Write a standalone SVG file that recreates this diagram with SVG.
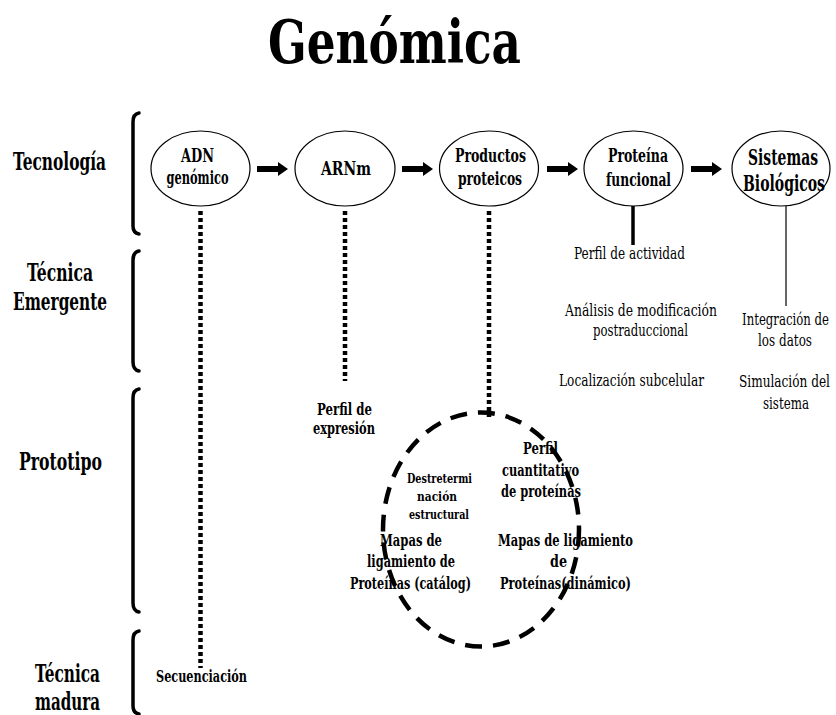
<svg xmlns="http://www.w3.org/2000/svg" width="836" height="715" viewBox="0 0 836 715">
  <style>
    text { fill: #000; text-anchor: middle; font-family: "DejaVu Serif", "Liberation Serif", serif; }
    .title { font-size: 60px; font-weight: bold; }
    .row { font-size: 24px; font-weight: bold; }
    .node { font-size: 18.5px; font-weight: bold; }
    .big { font-size: 21.5px; font-weight: bold; }
    .sub { font-size: 16px; }
    .subb { font-size: 17px; font-weight: bold; }
    .inb { font-size: 16px; font-weight: bold; }
    .sm { font-size: 13px; font-weight: bold; }
    .oval { fill: #fff; stroke: #000; stroke-width: 1.2; }
    .brace { fill: none; stroke: #000; stroke-width: 3.5; stroke-linecap: round; }
    .dots { stroke: #000; stroke-width: 4.5; stroke-dasharray: 4 3; fill: none; }
    .flow { fill: #000; }
  </style>

  <!-- heading -->
  <text class="title" x="394.5" y="63" textLength="253" lengthAdjust="spacingAndGlyphs">Genómica</text>

  <!-- maturity levels with their brackets -->
  <g id="levels">
    <text class="row" x="59.5" y="170" textLength="93" lengthAdjust="spacingAndGlyphs">Tecnología</text>
    <text class="row" x="60" y="281" textLength="66" lengthAdjust="spacingAndGlyphs">Técnica</text>
    <text class="row" x="60" y="310" textLength="94" lengthAdjust="spacingAndGlyphs">Emergente</text>
    <text class="row" x="60.5" y="470" textLength="83" lengthAdjust="spacingAndGlyphs">Prototipo</text>
    <text class="row" x="67.5" y="682" textLength="65" lengthAdjust="spacingAndGlyphs">Técnica</text>
    <text class="row" x="67.5" y="710" textLength="65" lengthAdjust="spacingAndGlyphs">madura</text>
    <path class="brace" d="M139,113 Q133,114 133,122 V226 Q133,233 139,234"/>
    <path class="brace" d="M139,251 Q133,252 133,260 V362 Q133,370 139,371"/>
    <path class="brace" d="M139,389 Q133,390 133,398 V603 Q133,611 139,612"/>
    <path class="brace" d="M139,631 Q133,632 133,640 V706 Q133,713 139,714"/>
  </g>

  <!-- connectors -->
  <g id="connectors">
    <polygon class="flow" points="257,166 278,166 278,162 288,169 278,176 278,172 257,172"/>
    <polygon class="flow" points="402,166 423,166 423,162 433,169 423,176 423,172 402,172"/>
    <polygon class="flow" points="547,166 568,166 568,162 578,169 568,176 568,172 547,172"/>
    <polygon class="flow" points="691,166 712,166 712,162 722,169 712,176 712,172 691,172"/>
    <line class="dots" x1="200.5" y1="211" x2="200.5" y2="668"/>
    <line class="dots" x1="345" y1="211" x2="345" y2="381"/>
    <line class="dots" x1="489" y1="211" x2="489" y2="417"/>
    <line x1="633" y1="206" x2="633" y2="245" stroke="#000" stroke-width="3.5"/>
    <line x1="786" y1="206" x2="786" y2="306" stroke="#000" stroke-width="1.2"/>
  </g>

  <g id="adn">
    <ellipse class="oval" cx="200.5" cy="168.5" rx="49.5" ry="37.5"/>
    <text class="node" x="197.5" y="162" textLength="33" lengthAdjust="spacingAndGlyphs">ADN</text>
    <text class="node" x="197.5" y="184" textLength="62" lengthAdjust="spacingAndGlyphs">genómico</text>
  </g>
  <g id="arnm">
    <ellipse class="oval" cx="345" cy="168.5" rx="50" ry="37.5"/>
    <text class="node" x="346" y="175" textLength="50" lengthAdjust="spacingAndGlyphs">ARNm</text>
  </g>
  <g id="productos">
    <ellipse class="oval" cx="489" cy="168.5" rx="49.5" ry="37.5"/>
    <text class="node" x="490.5" y="162" textLength="71" lengthAdjust="spacingAndGlyphs">Productos</text>
    <text class="node" x="490" y="185" textLength="64" lengthAdjust="spacingAndGlyphs">proteicos</text>
  </g>
  <g id="proteina">
    <ellipse class="oval" cx="633.5" cy="168.5" rx="49.5" ry="37.5"/>
    <text class="node" x="638" y="162" textLength="60" lengthAdjust="spacingAndGlyphs">Proteína</text>
    <text class="node" x="638.5" y="186" textLength="65" lengthAdjust="spacingAndGlyphs">funcional</text>
  </g>
  <g id="sistemas">
    <ellipse class="oval" cx="781" cy="168.5" rx="49" ry="37.5"/>
    <text class="big" x="783" y="165" textLength="70" lengthAdjust="spacingAndGlyphs">Sistemas</text>
    <text class="big" x="784" y="191" textLength="82" lengthAdjust="spacingAndGlyphs">Biológicos</text>
  </g>

  <!-- functional protein techniques -->
  <g id="funcional-tecnicas">
    <text class="sub" x="629.5" y="259" textLength="111" lengthAdjust="spacingAndGlyphs">Perfil de actividad</text>
    <text class="sub" x="641" y="316" textLength="152" lengthAdjust="spacingAndGlyphs">Análisis de modificación</text>
    <text class="sub" x="640.5" y="336" textLength="95" lengthAdjust="spacingAndGlyphs">postraduccional</text>
    <text class="sub" x="631.5" y="386" textLength="145" lengthAdjust="spacingAndGlyphs">Localización subcelular</text>
  </g>

  <!-- systems biology techniques -->
  <g id="sistemas-tecnicas">
    <text class="sub" x="785.5" y="325" textLength="87" lengthAdjust="spacingAndGlyphs">Integración de</text>
    <text class="sub" x="785" y="346" textLength="54" lengthAdjust="spacingAndGlyphs">los datos</text>
    <text class="sub" x="784.5" y="387" textLength="91" lengthAdjust="spacingAndGlyphs">Simulación del</text>
    <text class="sub" x="786" y="409" textLength="46" lengthAdjust="spacingAndGlyphs">sistema</text>
  </g>

  <g id="expresion">
    <text class="subb" x="344.5" y="415" textLength="55" lengthAdjust="spacingAndGlyphs">Perfil de</text>
    <text class="subb" x="344" y="434" textLength="62" lengthAdjust="spacingAndGlyphs">expresión</text>
  </g>

  <!-- proteomics cluster -->
  <g id="proteomica">
    <ellipse cx="481" cy="529.5" rx="98" ry="117" fill="none" stroke="#000" stroke-width="4.5" stroke-dasharray="17 11"/>
    <text class="sm" x="439.5" y="483" textLength="65" lengthAdjust="spacingAndGlyphs">Destretermi</text>
    <text class="sm" x="437" y="501" textLength="40" lengthAdjust="spacingAndGlyphs">nación</text>
    <text class="sm" x="439" y="519" textLength="60" lengthAdjust="spacingAndGlyphs">estructural</text>
    <text class="inb" x="411" y="546" textLength="62" lengthAdjust="spacingAndGlyphs">Mapas de</text>
    <text class="inb" x="411" y="567" textLength="88" lengthAdjust="spacingAndGlyphs">ligamiento de</text>
    <text class="inb" x="410.5" y="589" textLength="121" lengthAdjust="spacingAndGlyphs">Proteínas (catálog)</text>
    <text class="inb" x="540.5" y="454" textLength="35" lengthAdjust="spacingAndGlyphs">Perfil</text>
    <text class="inb" x="540.5" y="476" textLength="77" lengthAdjust="spacingAndGlyphs">cuantitativo</text>
    <text class="inb" x="541" y="497" textLength="80" lengthAdjust="spacingAndGlyphs">de proteínas</text>
    <text class="inb" x="565.5" y="546" textLength="135" lengthAdjust="spacingAndGlyphs">Mapas de ligamiento</text>
    <text class="inb" x="558.5" y="567" textLength="17" lengthAdjust="spacingAndGlyphs">de</text>
    <text class="inb" x="565.5" y="589" textLength="131" lengthAdjust="spacingAndGlyphs">Proteínas(dinámico)</text>
  </g>

  <g id="secuenciacion">
    <text class="inb" x="201.5" y="682" textLength="91" lengthAdjust="spacingAndGlyphs">Secuenciación</text>
  </g>
</svg>
